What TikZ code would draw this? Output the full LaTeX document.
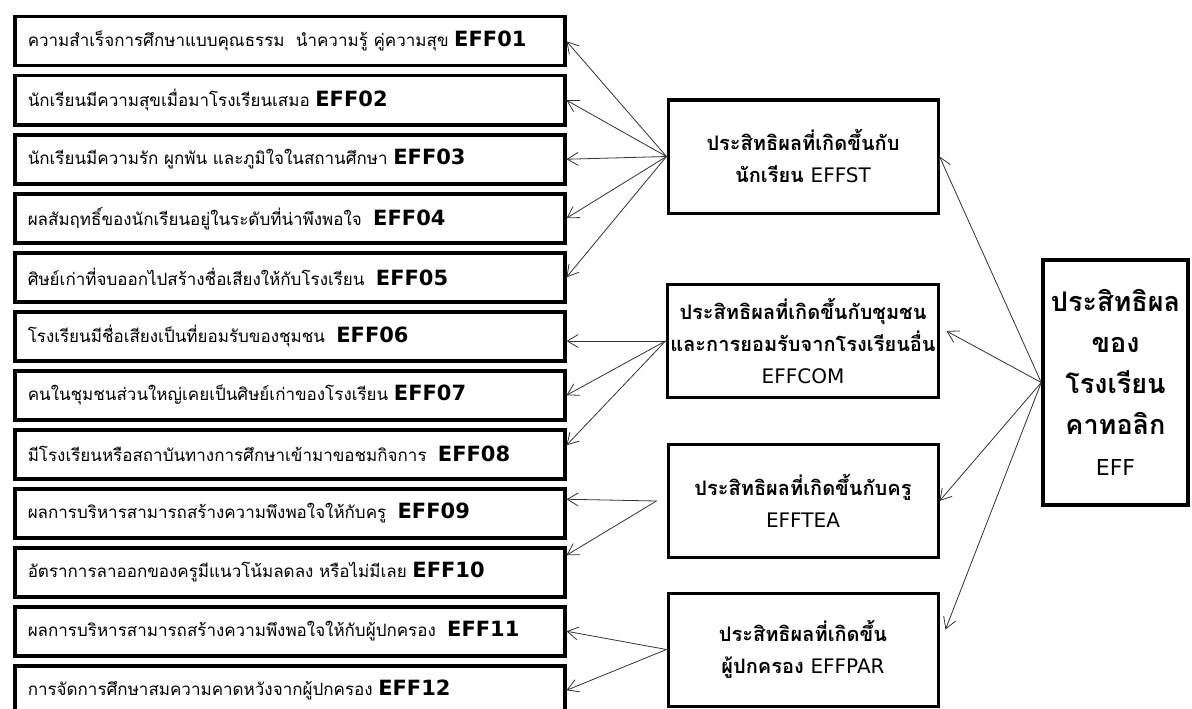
\documentclass[tikz,border=0pt]{standalone}
\usepackage{fontspec}
\setmainfont{DejaVu Sans}
\newfontfamily\thaifont[Script=Thai]{Loma}
\usetikzlibrary{arrows.meta}
\definecolor{linegray}{RGB}{50,50,50}
\newcommand\effcode[1]{{\rmfamily\bfseries\fontsize{21}{20}\selectfont #1}}

\begin{document}
\begin{tikzpicture}[x=1pt,y=-1pt,
    itembox/.style={draw,line width=3.5pt,anchor=north west,minimum width=550pt,
                    minimum height=49pt,text width=524pt,align=left,inner xsep=13pt,
                    font=\thaifont\fontsize{17}{20}\selectfont},
    midbox/.style={draw,line width=3pt,minimum width=270pt,minimum height=113pt,
                   align=center,font=\thaifont\bfseries\fontsize{20}{32}\selectfont},
    conn/.style={linegray,line width=0.8pt,-{Straight Barb[length=11pt,width=13pt]}}]
  \useasboundingbox (0,0) rectangle (1192,709);
  % ตัวชี้วัด
  \foreach \i/\txt/\code in {
      1/{ความสำเร็จการศึกษาแบบคุณธรรม\ \ นำความรู้ คู่ความสุข}/EFF01,
      2/{นักเรียนมีความสุขเมื่อมาโรงเรียนเสมอ}/EFF02,
      3/{นักเรียนมีความรัก ผูกพัน และภูมิใจในสถานศึกษา}/EFF03,
      4/{ผลสัมฤทธิ์ของนักเรียนอยู่ในระดับที่น่าพึงพอใจ\ }/EFF04,
      5/{ศิษย์เก่าที่จบออกไปสร้างชื่อเสียงให้กับโรงเรียน\ }/EFF05,
      6/{โรงเรียนมีชื่อเสียงเป็นที่ยอมรับของชุมชน\ }/EFF06,
      7/{คนในชุมชนส่วนใหญ่เคยเป็นศิษย์เก่าของโรงเรียน}/EFF07,
      8/{มีโรงเรียนหรือสถาบันทางการศึกษาเข้ามาขอชมกิจการ\ }/EFF08,
      9/{ผลการบริหารสามารถสร้างความพึงพอใจให้กับครู\ }/EFF09,
      10/{อัตราการลาออกของครูมีแนวโน้มลดลง หรือไม่มีเลย}/EFF10,
      11/{ผลการบริหารสามารถสร้างความพึงพอใจให้กับผู้ปกครอง\ }/EFF11,
      12/{การจัดการศึกษาสมความคาดหวังจากผู้ปกครอง}/EFF12}{
    \node[itembox] (b\i) at (13,{15+(\i-1)*59}) {\txt\ \effcode{\code}};
  }
  % องค์ประกอบ
  \node[midbox] (st) at (803,156.5) {ประสิทธิผลที่เกิดขึ้นกับ\\นักเรียน {\rmfamily\mdseries EFFST}};
  \node[midbox] (com) at (803,341) {ประสิทธิผลที่เกิดขึ้นกับชุมชน\\และการยอมรับจากโรงเรียนอื่น\\{\rmfamily\mdseries EFFCOM}};
  \node[midbox] (tea) at (803,501) {ประสิทธิผลที่เกิดขึ้นกับครู\\{\rmfamily\mdseries EFFTEA}};
  \node[midbox] (par) at (803,649.5) {ประสิทธิผลที่เกิดขึ้น\\ผู้ปกครอง {\rmfamily\mdseries EFFPAR}};
  \node[draw,line width=3.5pt,minimum width=145pt,minimum height=245pt,align=center,
        font=\thaifont\bfseries\fontsize{27}{41}\selectfont] (eff) at (1115.5,382.5)
        {ประสิทธิผล\\ของ\\โรงเรียน\\คาทอลิก\\{\rmfamily\mdseries\fontsize{22}{41}\selectfont EFF}};
  % เส้นเชื่อม
  \foreach \i in {1,...,5}{
    \draw[conn] (st.west) -- (b\i.east);
  }
  \draw[conn] (com.west) -- (com.west -| b6.east);
  \draw[conn] (com.west) -- (b7.east);
  \draw[conn] (com.west) -- ([yshift=9pt]b8.east);
  \draw[conn] ([xshift=-10pt]tea.west) -- ([yshift=14pt]b9.east);
  \draw[conn] ([xshift=-10pt]tea.west) -- ([yshift=17pt]b10.east);
  \draw[conn] (par.west) -- (b11.east);
  \draw[conn] (par.west) -- (b12.east);
  \draw[conn] (eff.west) -- (st.east);
  \draw[conn] (eff.west) -- ([xshift=6pt,yshift=10pt]com.east);
  \draw[conn] (eff.west) -- (tea.east);
  \draw[conn] (eff.west) -- ([xshift=6pt,yshift=20pt]par.east);
\end{tikzpicture}
\end{document}
